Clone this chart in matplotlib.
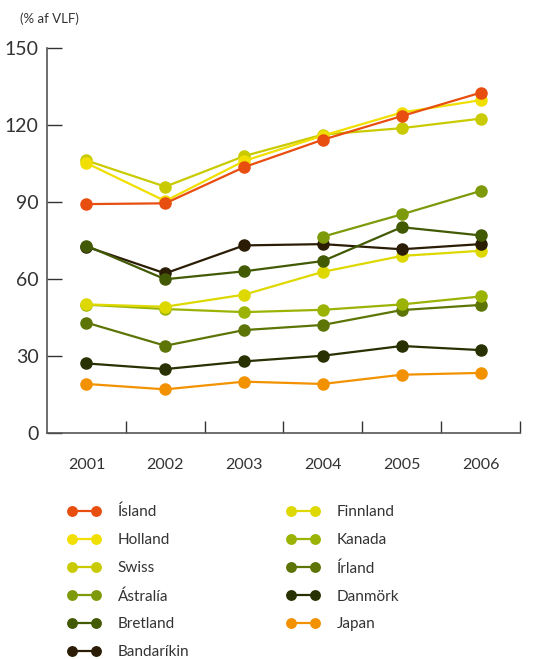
import matplotlib
matplotlib.use("Agg")
import matplotlib.pyplot as plt

plt.rcParams['font.family'] = ['Lato', 'DejaVu Sans']

# Data (% af VLF)
years = ["2001", "2002", "2003", "2004", "2005", "2006"]
countries = ["Ísland", "Holland", "Swiss", "Ástralía", "Bretland", "Bandaríkin",
             "Finnland", "Kanada", "Írland", "Danmörk", "Japan"]
island = [89.2, 89.5, 103.6, 114.3, 123.5, 132.6]
holland = [105.2, 90.4, 106.0, 115.9, 124.9, 129.7]
swiss = [106.2, 96.0, 107.9, 116.3, 118.8, 122.5]
astralia = [None, None, None, 76.5, 85.2, 94.3]
bretland = [73.0, 59.9, 63.0, 67.0, 80.2, 77.0]
bandarikin = [72.6, 62.2, 73.1, 73.6, 71.6, 73.6]
finnland = [50.1, 49.2, 53.9, 62.8, 69.0, 71.0]
kanada = [50.0, 48.3, 47.1, 48.0, 50.1, 53.2]
irland = [43.0, 34.0, 40.1, 42.1, 47.9, 49.9]
danmork = [27.1, 24.9, 27.9, 30.1, 33.9, 32.3]
japan = [19.1, 17.0, 20.0, 19.1, 22.7, 23.4]

series = [island, holland, swiss, astralia, bretland, bandarikin,
          finnland, kanada, irland, danmork, japan]
colors = ["#E84E0F", "#F0DF00", "#C9CB00", "#7D9A0A", "#435A05", "#2B1D05",
          "#DDD800", "#9BB305", "#5C7506", "#283102", "#F39200"]

fig = plt.figure(figsize=(5.38, 6.59), dpi=100)
ax = fig.add_axes([0.0874, 0.343, 0.879, 0.584])

x = list(range(len(years)))
# draw in reverse so Ísland sits on top
for vals, name, col in reversed(list(zip(series, countries, colors))):
    xs = [xi for xi, v in zip(x, vals) if v is not None]
    ys = [v for v in vals if v is not None]
    ax.plot(xs, ys, color=col, lw=1.6, marker='o', ms=8, label=name)

ax.set_xlim(-0.5, 5.5)
ax.set_ylim(0, 150)
ax.set_yticks([0, 30, 60, 90, 120, 150])
ax.set_xticks(x)
ax.set_xticklabels(years)
ax.set_xticks([0.5, 1.5, 2.5, 3.5, 4.5, 5.5], minor=True)
ax.tick_params(axis='x', which='major', length=0, pad=18, labelsize=11.5, colors='#333333')
ax.tick_params(axis='x', which='minor', direction='in', length=9, width=1, color='#333333')
ax.tick_params(axis='y', direction='in', length=11, width=1, pad=6, labelsize=14, colors='#333333')
for side in ['top', 'right']:
    ax.spines[side].set_visible(False)
for side in ['left', 'bottom']:
    ax.spines[side].set_color('#555555')
    ax.spines[side].set_linewidth(1.2)

fig.text(0.037, 0.972, "(% af VLF)", fontsize=9.5, color='#333333', va='center')

handles, labels = ax.get_legend_handles_labels()
handles, labels = handles[::-1], labels[::-1]
fig.legend(handles, labels, ncol=2, loc='upper left', bbox_to_anchor=(0.125, 0.234),
           frameon=False, numpoints=2, markerscale=0.85, handlelength=2.15,
           handletextpad=1.14, columnspacing=6.36, labelspacing=0.91, fontsize=11,
           labelcolor='#333333', borderpad=0, borderaxespad=0)

fig.savefig("out.png", dpi=100)
